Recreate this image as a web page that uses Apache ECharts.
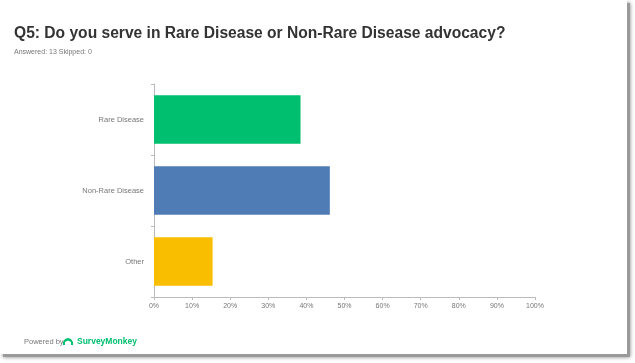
<!DOCTYPE html>
<html><head><meta charset="utf-8">
<script src="https://cdn.jsdelivr.net/npm/echarts@6/dist/echarts.min.js"></script>
<style>html,body{margin:0;padding:0;background:#fff}#c{width:635px;height:363px}</style>
</head><body><div id="c"></div>
<script>
const categories = ['Rare Disease', 'Non-Rare Disease', 'Other'];
const values = [38.46, 46.15, 15.38];
const barColors = ['#00BF6F', '#507CB6', '#F9BE00'];
const tickLabels = ['0%','10%','20%','30%','40%','50%','60%','70%','80%','90%','100%'];

const chart = echarts.init(document.getElementById('c'));
chart.setOption({
  animation: false,
  backgroundColor: '#fff',
  graphic: [
    {type:'rect', shape:{x:3, y:3, width:627, height:354}, style:{fill:'#9a9a9a', shadowBlur:4, shadowColor:'rgba(0,0,0,0.5)'}, z:-10},
    {type:'rect', shape:{x:0, y:0, width:627, height:354}, style:{fill:'#fff'}, z:-9},
    {type:'text', x:14, y:26, style:{text:'Q5: Do you serve in Rare Disease or Non-Rare Disease advocacy?', font:'bold 15.6px "Liberation Sans", Arial, sans-serif', fill:'#333'}},
    {type:'text', x:14, y:49, style:{text:'Answered: 13 Skipped: 0', font:'7px "Liberation Sans", Arial, sans-serif', fill:'#777'}},
    {type:'text', x:24, y:338, style:{text:'Powered by', font:'7.5px "Liberation Sans", Arial, sans-serif', fill:'#777'}},
    {type:'polygon', shape:{points:[[63,345],[63,342],[65,339],[68,338],[71,339],[73,342],[73,345],[71,345],[71,342],[68,340.5],[65,342],[65,345]]}, style:{fill:'#00BF6F'}},
    {type:'text', x:77, y:337, style:{text:'SurveyMonkey', font:'bold 8.5px "Liberation Sans", Arial, sans-serif', fill:'#00BF6F'}}
  ],
  grid: {left:154, right:100, top:84, bottom:66},
  xAxis: {
    type:'value', min:0, max:100, interval:10,
    axisLine:{show:true, lineStyle:{color:'#bbb'}},
    axisTick:{show:true, length:3, lineStyle:{color:'#bbb'}},
    splitLine:{show:false},
    axisLabel:{formatter:(v)=>tickLabels[Math.round(v/10)], color:'#777', fontSize:7, fontFamily:'"Liberation Sans", Arial, sans-serif', margin:6}
  },
  yAxis: {
    type:'category', data:categories, inverse:true,
    axisLine:{show:true, lineStyle:{color:'#bbb'}},
    axisTick:{show:true, length:3, lineStyle:{color:'#bbb'}},
    axisLabel:{color:'#777', fontSize:7.5, fontFamily:'"Liberation Sans", Arial, sans-serif', margin:10}
  },
  series: [{
    type:'bar',
    data: values.map((v,i)=>({value:v, itemStyle:{color:barColors[i]}})),
    barCategoryGap:'32%'
  }]
});
</script></body></html>
